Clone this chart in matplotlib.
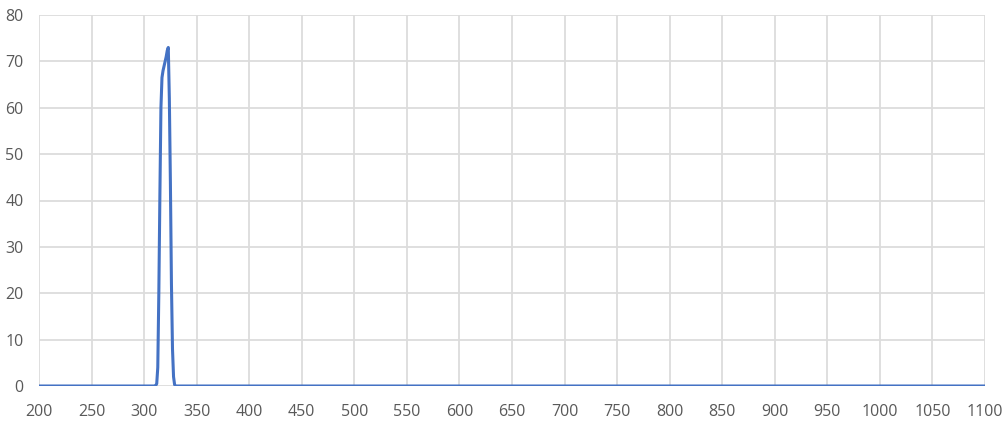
import numpy as np
import matplotlib
matplotlib.use("Agg")
import matplotlib.pyplot as plt

# 波长 (nm) 与透过率 (%)
wavelength = [200, 300, 310, 311, 312, 313, 314, 315, 316, 317, 318, 319, 320,
              321, 322, 323, 324, 325, 326, 327, 328, 329, 330, 400, 600, 800, 1000, 1100]
transmit = [0, 0, 0, 0.1, 0.5, 4, 20, 41, 60, 66.5, 68, 69, 70,
            71, 72.3, 73, 62, 44, 22, 8, 2, 0.3, 0, 0, 0, 0, 0, 0]

x_ticks = list(range(200, 1101, 50))
y_ticks = list(range(0, 81, 10))

plt.rcParams['font.family'] = ['Open Sans', 'DejaVu Sans']

fig = plt.figure(figsize=(10.05, 4.25), dpi=100)
ax = fig.add_axes([39 / 1005, 39 / 425, 946 / 1005, 371 / 425])

ax.plot(wavelength, transmit, color='#4472C4', linewidth=2.2, solid_joinstyle='round', zorder=3)

ax.set_xlim(200, 1100)
ax.set_ylim(0, 80)
ax.set_xticks(x_ticks)
ax.set_yticks(y_ticks)
ax.grid(True, color='#DCDCDC', linewidth=1.3)
for s in ax.spines.values():
    s.set_visible(False)
ax.tick_params(length=0, labelsize=11.5, labelcolor='#595959')
ax.tick_params(axis='x', pad=13)
ax.tick_params(axis='y', pad=11)

fig.savefig("out.png", dpi=100)
